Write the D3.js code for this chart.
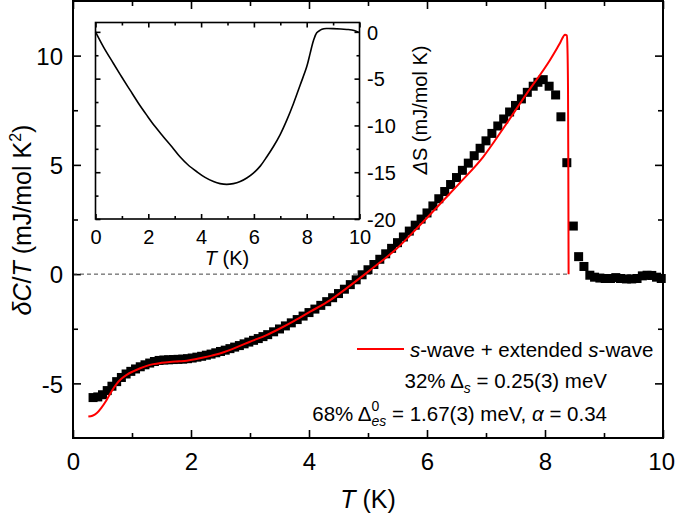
<!DOCTYPE html>
<html><head><meta charset="utf-8">
<script src="https://cdn.jsdelivr.net/npm/d3@7"></script>
<style>
body{margin:0;background:#fff}
svg{display:block}
text{font-family:"Liberation Sans",Arial,Helvetica,sans-serif;fill:#000}
</style>
</head><body>
<svg id="c" width="675" height="517"></svg>
<script>
// ---- data ----
const dataT = [0.34,0.42,0.50,0.58,0.66,0.74,0.82,0.90,0.98,1.06,1.14,1.22,1.30,1.38,1.46,1.54,1.62,1.70,1.78,1.86,1.94,2.02,2.10,2.18,2.26,2.34,2.42,2.50,2.58,2.66,2.74,2.82,2.90,2.98,3.06,3.14,3.22,3.30,3.40,3.50,3.60,3.70,3.80,3.90,4.00,4.10,4.20,4.30,4.40,4.50,4.60,4.70,4.80,4.90,5.00,5.10,5.20,5.30,5.40,5.50,5.60,5.70,5.80,5.90,6.00,6.10,6.20,6.30,6.40,6.50,6.60,6.70,6.80,6.90,7.00,7.10,7.20,7.30,7.40,7.50,7.60,7.70,7.80,7.88,7.97,8.07,8.18,8.27,8.37,8.48,8.57,8.66,8.76,8.84,8.93,9.02,9.11,9.20,9.28,9.38,9.47,9.56,9.65,9.73,9.81,9.89,9.97];
const dataC = [-5.65,-5.62,-5.52,-5.33,-5.13,-4.92,-4.73,-4.57,-4.45,-4.34,-4.24,-4.15,-4.07,-4.0,-3.95,-3.93,-3.92,-3.91,-3.9,-3.89,-3.87,-3.84,-3.8,-3.76,-3.71,-3.66,-3.6,-3.54,-3.48,-3.41,-3.34,-3.27,-3.19,-3.11,-3.03,-2.95,-2.86,-2.77,-2.64,-2.51,-2.37,-2.23,-2.08,-1.92,-1.76,-1.6,-1.43,-1.26,-1.08,-0.89,-0.69,-0.48,-0.26,-0.03,0.2,0.44,0.68,0.93,1.18,1.44,1.7,1.97,2.24,2.52,2.8,3.12,3.45,3.78,4.1,4.42,4.75,5.08,5.42,5.76,6.1,6.44,6.78,7.1,7.42,7.72,8.02,8.32,8.6,8.78,8.9,8.6,8.2,7.2,5.1,2.2,0.8,0.35,-0.05,-0.14,-0.18,-0.2,-0.2,-0.16,-0.2,-0.22,-0.22,-0.2,-0.08,-0.05,-0.06,-0.14,-0.2];

const fitT = [0.26,0.33,0.40,0.48,0.57,0.65,0.74,0.82,0.91,1.02,1.14,1.25,1.36,1.50,1.64,1.80,1.93,2.07,2.21,2.35,2.49,2.63,2.77,2.91,3.06,3.28,3.50,3.75,4.02,4.36,4.65,4.95,5.20,5.46,5.88,6.28,6.60,6.95,7.30,7.69,8.08,8.25,8.34,8.37,8.38,8.39,8.395,8.40];
const fitC = [-6.52,-6.48,-6.37,-6.12,-5.76,-5.38,-5.02,-4.79,-4.61,-4.45,-4.31,-4.2,-4.12,-4.06,-4.02,-3.99,-3.96,-3.9,-3.82,-3.73,-3.63,-3.5,-3.35,-3.19,-3.03,-2.79,-2.5,-2.14,-1.72,-1.19,-0.62,0.0,0.53,1.1,2.24,3.38,4.3,5.36,6.7,8.26,9.78,10.55,10.96,10.92,10.4,8.5,5.0,0.0];

const insetT = [0,0.3,0.68,1.0,1.31,1.62,1.94,2.25,2.57,2.9,3.2,3.5,3.84,4.15,4.47,4.72,4.97,5.22,5.48,5.73,5.98,6.24,6.49,6.74,6.99,7.25,7.5,7.75,8.0,8.13,8.26,8.38,8.51,8.65,8.76,9.0,9.52,9.8,9.96];
const insetS = [0,-1.6,-3.38,-4.85,-6.23,-7.6,-8.9,-10.1,-11.2,-12.3,-13.35,-14.2,-14.95,-15.55,-16.0,-16.22,-16.3,-16.22,-16.0,-15.62,-15.1,-14.35,-13.35,-12.25,-11.0,-9.4,-7.65,-5.7,-3.74,-2.3,-0.89,-0.1,0.18,0.33,0.36,0.35,0.26,0.15,-0.05];

const xTicks = [0,2,4,6,8,10];
const xMinor = [1,3,5,7,9];
const yTicks = [-5,0,5,10];
const yMinor = [-2.5,2.5,7.5];
const insetXTicks = [0,2,4,6,8,10];
const insetXMinor = [1,3,5,7,9];
const insetYTicks = [0,-5,-10,-15,-20];
const insetYMinor = [-2.5,-7.5,-12.5,-17.5];

// ---- layout ----
const svg = d3.select("#c");
const L=73, R=663, T=1, B=438;
const x = d3.scaleLinear([0,10],[L,R]);
const y = d3.scaleLinear([-7.5,12.5],[B,T]);

const fmt = d => (d<0?"-":"")+Math.abs(d);

function tickAxis(axisGen, scale, vals, size, transform, labels){
  const a = axisGen(scale).tickValues(vals).tickSize(size).tickSizeOuter(0);
  if(!labels) a.tickFormat("");
  else a.tickFormat(fmt);
  const g = svg.append("g").attr("transform",transform).call(a);
  g.select(".domain").remove();
  g.selectAll(".tick line").attr("stroke","#000").attr("stroke-width",1.6);
  return g;
}
// main axes
const gb = tickAxis(d3.axisBottom, x, xTicks, -8, `translate(0,${B})`, true);
gb.selectAll("text").attr("font-size",24).attr("y",15).attr("dy","0.71em")
  .filter(d=>d===10).attr("text-anchor","end").attr("x",11.5);
tickAxis(d3.axisBottom, x, xMinor, -5, `translate(0,${B})`, false);
tickAxis(d3.axisTop, x, xTicks, -8, `translate(0,${T})`, false);
tickAxis(d3.axisTop, x, xMinor, -5, `translate(0,${T})`, false);
const gl = tickAxis(d3.axisLeft, y, yTicks, -8, `translate(${L},0)`, true);
gl.selectAll("text").attr("font-size",24).attr("x",-10).attr("dy","0.36em");
tickAxis(d3.axisLeft, y, yMinor, -5, `translate(${L},0)`, false);
tickAxis(d3.axisRight, y, yTicks, -8, `translate(${R},0)`, false);
tickAxis(d3.axisRight, y, yMinor, -5, `translate(${R},0)`, false);

// zero dashed line
svg.append("line").attr("x1",x(0)).attr("x2",x(8.4)).attr("y1",y(0)).attr("y2",y(0))
  .attr("stroke","#444").attr("stroke-width",1).attr("stroke-dasharray","4,3");

// data squares
const pts = dataT.map((t,i)=>[t,dataC[i]]);
svg.append("g").selectAll("rect").data(pts).join("rect")
  .attr("x",d=>x(d[0])-4.5).attr("y",d=>y(d[1])-4.5).attr("width",9).attr("height",9).attr("fill","#000");

// fit line
const fit = fitT.map((t,i)=>[t,fitC[i]]);
svg.append("path").datum(fit).attr("fill","none").attr("stroke","#ff0000").attr("stroke-width",2)
  .attr("d", d3.line().x(d=>x(d[0])).y(d=>y(d[1])).curve(d3.curveMonotoneX));

// frame
svg.append("rect").attr("x",L).attr("y",T).attr("width",R-L).attr("height",B-T)
  .attr("fill","none").attr("stroke","#000").attr("stroke-width",2);

// axis labels
svg.append("text").attr("x",368).attr("y",508).attr("text-anchor","middle").attr("font-size",25)
  .html('<tspan font-style="italic">T</tspan> (K)');
svg.append("text").attr("transform","translate(31,220) rotate(-90)").attr("text-anchor","middle").attr("font-size",25)
  .html('<tspan font-style="italic">δC</tspan>/<tspan font-style="italic">T</tspan> (mJ/mol K<tspan font-size="16" dy="-10">2</tspan><tspan dy="10">)</tspan>');

// ---- inset ----
const iL=95.5, iR=359.5, iT=22.5, iB=219;
const xi = d3.scaleLinear([0,10],[iL,iR]);
const yi = d3.scaleLinear([-20,1],[iB,iT]);
svg.append("rect").attr("x",iL).attr("y",iT).attr("width",iR-iL).attr("height",iB-iT).attr("fill","#fff");
const ib = tickAxis(d3.axisBottom, xi, insetXTicks, -5, `translate(0,${iB})`, true);
ib.selectAll("text").attr("font-size",20).attr("y",10.5).attr("dy","0.71em");
tickAxis(d3.axisBottom, xi, insetXMinor, -3, `translate(0,${iB})`, false);
tickAxis(d3.axisTop, xi, insetXTicks, -5, `translate(0,${iT})`, false);
tickAxis(d3.axisTop, xi, insetXMinor, -3, `translate(0,${iT})`, false);
const ir = tickAxis(d3.axisRight, yi, insetYTicks, -5, `translate(${iR},0)`, true);
ir.selectAll("text").attr("font-size",20).attr("x",7.5).attr("dy","0.36em");
tickAxis(d3.axisRight, yi, insetYMinor, -3, `translate(${iR},0)`, false);
tickAxis(d3.axisLeft, yi, insetYTicks, -5, `translate(${iL},0)`, false);
tickAxis(d3.axisLeft, yi, insetYMinor, -3, `translate(${iL},0)`, false);

const ins = insetT.map((t,i)=>[t,insetS[i]]);
svg.append("path").datum(ins).attr("fill","none").attr("stroke","#000").attr("stroke-width",1.6)
  .attr("d", d3.line().x(d=>xi(d[0])).y(d=>yi(d[1])).curve(d3.curveCatmullRom));
svg.append("rect").attr("x",iL).attr("y",iT).attr("width",iR-iL).attr("height",iB-iT)
  .attr("fill","none").attr("stroke","#000").attr("stroke-width",1.6);

svg.append("text").attr("x",227).attr("y",265).attr("text-anchor","middle").attr("font-size",20)
  .html('<tspan font-style="italic">T</tspan> (K)');
svg.append("text").attr("transform","translate(427,110) rotate(-90)").attr("text-anchor","middle").attr("font-size",20)
  .html('<tspan font-style="italic">Δ</tspan>S (mJ/mol K)');

// ---- legend ----
svg.append("line").attr("x1",357).attr("x2",404).attr("y1",349).attr("y2",349)
  .attr("stroke","#ff0000").attr("stroke-width",2);
svg.append("text").attr("x",410).attr("y",357).attr("font-size",20.5)
  .html('<tspan font-style="italic">s</tspan>-wave + extended <tspan font-style="italic">s</tspan>-wave');
svg.append("text").attr("x",607).attr("y",388).attr("text-anchor","end").attr("font-size",20.5)
  .html('32% Δ<tspan font-size="14" font-style="italic" dy="5">s</tspan><tspan dy="-5"> = 0.25(3) meV</tspan>');
svg.append("text").attr("x",607).attr("y",421).attr("text-anchor","end").attr("font-size",20.5)
  .html('68% Δ<tspan font-size="14" dy="-10">0</tspan><tspan font-size="14" font-style="italic" dx="-7.8" dy="15">es</tspan><tspan dy="-5"> = 1.67(3) meV, </tspan><tspan font-style="italic">α</tspan> = 0.34');
</script>
</body></html>
